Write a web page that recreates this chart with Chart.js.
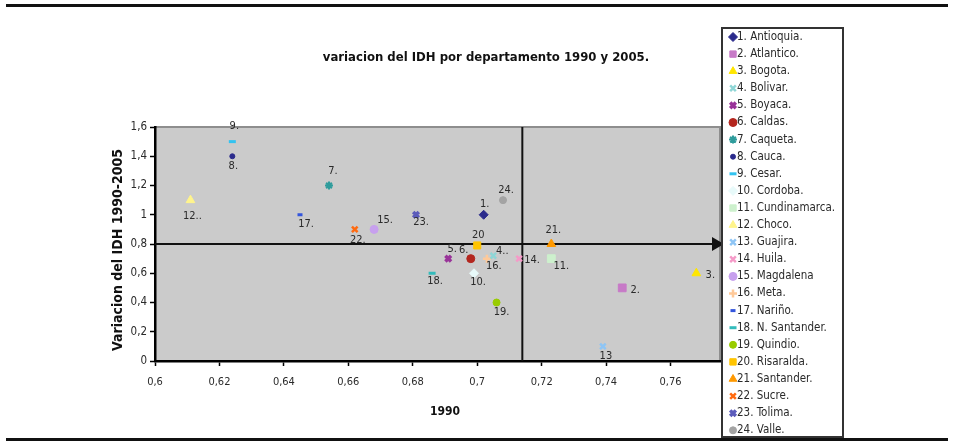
<!DOCTYPE html>
<html><head><meta charset="utf-8">
<script src="https://cdn.jsdelivr.net/npm/chart.js@4.4.0/dist/chart.umd.min.js"></script>
<style>html,body{margin:0;padding:0;background:#fff;overflow:hidden}canvas{display:block}</style>
</head><body>
<canvas id="c" width="953" height="444"></canvas>
<script>
// ---- data ----
const departments = ["1. Antioquia.","2. Atlantico.","3. Bogota.","4. Bolivar.","5. Boyaca.","6. Caldas.","7. Caqueta.","8. Cauca.","9. Cesar.","10. Cordoba.","11. Cundinamarca.","12. Choco.","13. Guajira.","14. Huila.","15. Magdalena","16. Meta.","17. Nariño.","18. N. Santander.","19. Quindio.","20. Risaralda.","21. Santander.","22. Sucre.","23. Tolima.","24. Valle."];
const pointLabels = ["1.","2.","3.","4..","5.","6.","7.","8.","9.","10.","11.","12..","13","14.","15.","16.","17.","18.","19.","20","21.","22.","23.","24."];
const idh1990 = [0.702,0.745,0.768,0.705,0.691,0.698,0.654,0.624,0.624,0.699,0.723,0.611,0.739,0.713,0.668,0.703,0.645,0.686,0.706,0.700,0.723,0.662,0.681,0.708];
const variacion = [1.0,0.5,0.6,0.72,0.7,0.7,1.2,1.4,1.5,0.6,0.7,1.1,0.1,0.7,0.9,0.7,1.0,0.6,0.4,0.79,0.8,0.9,1.0,1.1];
const xTicks = [0.6,0.62,0.64,0.66,0.68,0.7,0.72,0.74,0.76,0.78];
const yTicks = [0,0.2,0.4,0.6,0.8,1,1.2,1.4,1.6];
const refX = 0.714, refY = 0.8;
const chartTitle = "variacion del IDH por departamento 1990 y 2005.";
const xTitle = "1990";
const yTitle = "Variacion del IDH 1990-2005";

// ---- styles ----
const colors = ["#2b2b8c","#c77ac7","#ffe600","#8fd6d6","#993399","#b3261e","#2f9c9c","#2b2b8c","#33c3f0","#e8fafa","#cdf0cd","#fff48c","#8ec5f5","#f59ac8","#c7a0ee","#ffc999","#3355dd","#33bbbb","#99cc00","#ffc400","#ff9900","#ff6a10","#5b5bbb","#a3a3a3"];
const styles = ["rectRot","rect","triangle","crossRot","crossRot","circle","star","circle","line","rectRot","rect","triangle","crossRot","crossRot","circle","cross","line","line","circle","rect","triangle","crossRot","crossRot","circle"];
const radii =  [4.5,5.5,5,4,4,4,4,2.5,3.5,4.5,5.5,5,4,4,4,4,2.5,3.5,3.5,5,5,4,4,3.5];
const bws =    [1,1,1,2.5,3.5,1,2,1,3,1,1,1,2.5,2.5,1,2.5,3,3,1,1,1,2.5,3.5,1];
const labelOffsets = [[1,-11],[13,2],[14,2],[9,-5],[4,-9],[-7,-8],[4,-14],[1,10],[2,-15],[4,9],[10,8],[2,16],[3,10],[13,2],[11,-9],[7,8],[6,9],[3,8],[5,10],[1,-10],[2,-14],[3,11],[5,7],[3,-10]];
const NARROW = "'Liberation Sans Narrow','DejaVu Sans Condensed','Arial Narrow',sans-serif";
const legendBox = {x:722, y:28, w:121, h:409, rowTop:37, rowH:17.1};
const fmt = v => String(+(+v).toFixed(2)).replace('.', ',');

const datasets = departments.map((d,i)=>({
  label: d,
  data: [{x: idh1990[i], y: variacion[i]}],
  pointStyle: styles[i],
  pointRadius: radii[i],
  pointHoverRadius: radii[i],
  pointBackgroundColor: colors[i],
  pointBorderColor: colors[i],
  pointBorderWidth: bws[i],
  showLine: false
}));

const decor = {
  id: 'decor',
  beforeDraw(chart){
    const {ctx, chartArea:a} = chart;
    ctx.save();
    ctx.fillStyle = '#fff'; ctx.fillRect(0,0,chart.width,chart.height);
    ctx.fillStyle = '#111';
    ctx.fillRect(6,4,942,3);
    ctx.fillRect(6,438,942,3);
    const r = legendBox.x - 2;
    ctx.fillStyle = '#cbcbcb';
    ctx.fillRect(a.left, a.top, r - a.left, a.bottom - a.top);
    ctx.strokeStyle = '#8e8e8e'; ctx.lineWidth = 2;
    ctx.beginPath(); ctx.moveTo(a.left, a.top); ctx.lineTo(r, a.top); ctx.lineTo(r, a.bottom); ctx.stroke();
    ctx.restore();
  },
  beforeDatasetsDraw(chart){
    const {ctx, chartArea:a, scales:{x,y}} = chart;
    ctx.save();
    ctx.strokeStyle = '#111'; ctx.lineWidth = 2;
    const py = y.getPixelForValue(refY), px = x.getPixelForValue(refX);
    const tip = legendBox.x + 2;
    ctx.beginPath(); ctx.moveTo(a.left, py); ctx.lineTo(tip - 10, py); ctx.stroke();
    ctx.fillStyle = '#111';
    ctx.beginPath(); ctx.moveTo(tip, py); ctx.lineTo(tip - 12, py - 7); ctx.lineTo(tip - 12, py + 7); ctx.closePath(); ctx.fill();
    ctx.beginPath(); ctx.moveTo(px, a.top); ctx.lineTo(px, a.bottom); ctx.stroke();
    ctx.restore();
  },
  afterDatasetsDraw(chart){
    const {ctx} = chart;
    ctx.save();
    ctx.font = "11px " + NARROW; ctx.fillStyle = '#2a2a2a';
    ctx.textAlign = 'center'; ctx.textBaseline = 'middle';
    chart.data.datasets.forEach((ds,i)=>{
      const el = chart.getDatasetMeta(i).data[0];
      ctx.fillText(pointLabels[i], el.x + labelOffsets[i][0], el.y + labelOffsets[i][1]);
    });
    ctx.restore();
  },
  afterDraw(chart){
    const {ctx, chartArea:a} = chart;
    ctx.save();
    ctx.font = "bold 13px " + NARROW; ctx.fillStyle = '#111';
    ctx.textAlign = 'center'; ctx.textBaseline = 'middle';
    ctx.fillText(chartTitle, 486, 58);
    // y axis title
    ctx.save();
    ctx.translate(118, (a.top + a.bottom) / 2 + 6);
    ctx.rotate(-Math.PI / 2);
    ctx.font = "bold 14px " + NARROW;
    ctx.fillText(yTitle, 0, 0);
    ctx.restore();
    // legend
    const L = legendBox;
    ctx.fillStyle = '#fff'; ctx.fillRect(L.x, L.y, L.w, L.h);
    ctx.strokeStyle = '#333'; ctx.lineWidth = 2; ctx.strokeRect(L.x, L.y, L.w, L.h);
    ctx.font = "11.5px " + NARROW; ctx.textAlign = 'left';
    chart.data.datasets.forEach((ds,i)=>{
      const yy = L.rowTop + L.rowH * i;
      ctx.fillStyle = colors[i]; ctx.strokeStyle = colors[i]; ctx.lineWidth = bws[i];
      Chart.helpers.drawPoint(ctx, {pointStyle: styles[i], rotation: 0, radius: Math.min(radii[i],4.5), borderWidth: bws[i]}, L.x + 11, yy);
      ctx.fillStyle = '#2a2a2a';
      ctx.fillText(departments[i], L.x + 15, yy);
    });
    ctx.restore();
  }
};

new Chart(document.getElementById('c'), {
  type: 'scatter',
  data: { datasets },
  options: {
    responsive: false, animation: false, devicePixelRatio: 1,
    layout: { padding: { left: 108, top: 127, right: 218, bottom: 21 } },
    plugins: { legend: { display: false }, tooltip: { enabled: false }, title: { display: false } },
    scales: {
      x: {
        type: 'linear', min: 0.6, max: 0.78,
        afterBuildTicks: s => { s.ticks = xTicks.map(v => ({value: v})); },
        afterFit: s => { s.height = 62; },
        grid: { display: true, drawOnChartArea: false, drawTicks: true, tickLength: 5, tickColor: '#000', tickWidth: 1.5 },
        border: { display: true, color: '#000', width: 2.5 },
        ticks: { callback: v => fmt(v), font: { size: 11, family: NARROW }, color: '#2a2a2a', padding: 10, maxRotation: 0, autoSkip: false },
        title: { display: true, text: xTitle, font: { size: 12, weight: 'bold', family: NARROW }, color: '#111', padding: { top: 4, bottom: 4 } }
      },
      y: {
        type: 'linear', min: 0, max: 1.6,
        afterBuildTicks: s => { s.ticks = yTicks.map(v => ({value: v})); },
        afterFit: s => { s.width = 47; },
        grid: { display: true, drawOnChartArea: false, drawTicks: true, tickLength: 5, tickColor: '#000', tickWidth: 1.5 },
        border: { display: true, color: '#000', width: 2.5 },
        ticks: { callback: v => fmt(v), font: { size: 11.5, family: NARROW }, color: '#2a2a2a', padding: 3, autoSkip: false },
        title: { display: false }
      }
    }
  },
  plugins: [decor]
});
</script>
</body></html>
